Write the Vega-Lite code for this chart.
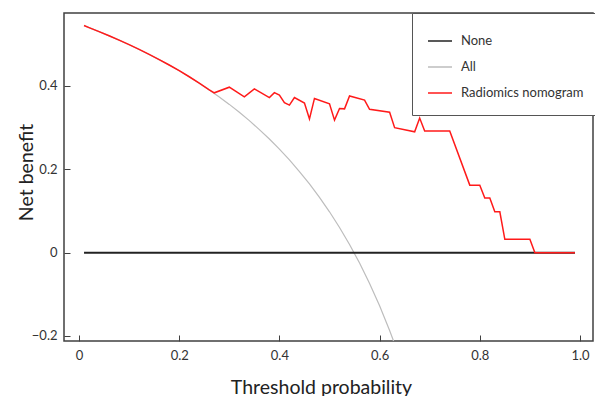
{
  "$schema": "https://vega.github.io/schema/vega-lite/v6.json",
  "width": 529,
  "height": 328,
  "autosize": {"type": "none"},
  "padding": {"left": 64, "top": 13, "right": 2, "bottom": 55},
  "background": "white",
  "config": {
    "view": {"stroke": "#404040", "strokeWidth": 1.5},
    "font": "Lato",
    "axis": {
      "domain": false,
      "grid": false,
      "tickSize": -6,
      "tickColor": "#404040",
      "tickWidth": 1,
      "labelFont": "Lato",
      "labelFontSize": 13,
      "labelColor": "#333333",
      "titleFont": "Lato",
      "titleFontSize": 19.5,
      "titleFontWeight": "normal",
      "titleColor": "#222222"
    },
    "legend": {
      "labelFont": "Lato",
      "labelFontSize": 13,
      "labelColor": "#333333"
    }
  },
  "data": {
    "values": [
      {"t": 0.01, "nb": 0, "s": "None"},
      {"t": 0.99, "nb": 0, "s": "None"},

      {"t": 0.01, "nb": 0.5444, "s": "All"},
      {"t": 0.02, "nb": 0.5398, "s": "All"},
      {"t": 0.03, "nb": 0.5351, "s": "All"},
      {"t": 0.04, "nb": 0.5302, "s": "All"},
      {"t": 0.06, "nb": 0.5202, "s": "All"},
      {"t": 0.08, "nb": 0.5098, "s": "All"},
      {"t": 0.10, "nb": 0.4989, "s": "All"},
      {"t": 0.12, "nb": 0.4875, "s": "All"},
      {"t": 0.14, "nb": 0.4756, "s": "All"},
      {"t": 0.16, "nb": 0.4631, "s": "All"},
      {"t": 0.18, "nb": 0.4500, "s": "All"},
      {"t": 0.20, "nb": 0.4363, "s": "All"},
      {"t": 0.22, "nb": 0.4218, "s": "All"},
      {"t": 0.24, "nb": 0.4066, "s": "All"},
      {"t": 0.26, "nb": 0.3905, "s": "All"},
      {"t": 0.28, "nb": 0.3736, "s": "All"},
      {"t": 0.30, "nb": 0.3557, "s": "All"},
      {"t": 0.32, "nb": 0.3368, "s": "All"},
      {"t": 0.34, "nb": 0.3167, "s": "All"},
      {"t": 0.36, "nb": 0.2953, "s": "All"},
      {"t": 0.38, "nb": 0.2726, "s": "All"},
      {"t": 0.40, "nb": 0.2483, "s": "All"},
      {"t": 0.42, "nb": 0.2224, "s": "All"},
      {"t": 0.44, "nb": 0.1946, "s": "All"},
      {"t": 0.46, "nb": 0.1648, "s": "All"},
      {"t": 0.48, "nb": 0.1327, "s": "All"},
      {"t": 0.50, "nb": 0.0980, "s": "All"},
      {"t": 0.52, "nb": 0.0604, "s": "All"},
      {"t": 0.54, "nb": 0.0196, "s": "All"},
      {"t": 0.56, "nb": -0.0250, "s": "All"},
      {"t": 0.58, "nb": -0.0738, "s": "All"},
      {"t": 0.60, "nb": -0.1275, "s": "All"},
      {"t": 0.62, "nb": -0.1868, "s": "All"},
      {"t": 0.63, "nb": -0.2189, "s": "All"},

      {"t": 0.01, "nb": 0.5450, "s": "Radiomics nomogram"},
      {"t": 0.02, "nb": 0.5400, "s": "Radiomics nomogram"},
      {"t": 0.04, "nb": 0.5304, "s": "Radiomics nomogram"},
      {"t": 0.06, "nb": 0.5204, "s": "Radiomics nomogram"},
      {"t": 0.08, "nb": 0.5100, "s": "Radiomics nomogram"},
      {"t": 0.10, "nb": 0.4991, "s": "Radiomics nomogram"},
      {"t": 0.12, "nb": 0.4877, "s": "Radiomics nomogram"},
      {"t": 0.14, "nb": 0.4758, "s": "Radiomics nomogram"},
      {"t": 0.16, "nb": 0.4633, "s": "Radiomics nomogram"},
      {"t": 0.18, "nb": 0.4502, "s": "Radiomics nomogram"},
      {"t": 0.20, "nb": 0.4365, "s": "Radiomics nomogram"},
      {"t": 0.22, "nb": 0.4220, "s": "Radiomics nomogram"},
      {"t": 0.24, "nb": 0.4068, "s": "Radiomics nomogram"},
      {"t": 0.26, "nb": 0.3907, "s": "Radiomics nomogram"},
      {"t": 0.27, "nb": 0.3835, "s": "Radiomics nomogram"},
      {"t": 0.30, "nb": 0.397, "s": "Radiomics nomogram"},
      {"t": 0.33, "nb": 0.374, "s": "Radiomics nomogram"},
      {"t": 0.35, "nb": 0.393, "s": "Radiomics nomogram"},
      {"t": 0.38, "nb": 0.372, "s": "Radiomics nomogram"},
      {"t": 0.39, "nb": 0.384, "s": "Radiomics nomogram"},
      {"t": 0.40, "nb": 0.378, "s": "Radiomics nomogram"},
      {"t": 0.41, "nb": 0.360, "s": "Radiomics nomogram"},
      {"t": 0.42, "nb": 0.354, "s": "Radiomics nomogram"},
      {"t": 0.43, "nb": 0.372, "s": "Radiomics nomogram"},
      {"t": 0.45, "nb": 0.359, "s": "Radiomics nomogram"},
      {"t": 0.46, "nb": 0.321, "s": "Radiomics nomogram"},
      {"t": 0.47, "nb": 0.370, "s": "Radiomics nomogram"},
      {"t": 0.50, "nb": 0.357, "s": "Radiomics nomogram"},
      {"t": 0.51, "nb": 0.318, "s": "Radiomics nomogram"},
      {"t": 0.52, "nb": 0.346, "s": "Radiomics nomogram"},
      {"t": 0.53, "nb": 0.345, "s": "Radiomics nomogram"},
      {"t": 0.54, "nb": 0.376, "s": "Radiomics nomogram"},
      {"t": 0.57, "nb": 0.366, "s": "Radiomics nomogram"},
      {"t": 0.58, "nb": 0.344, "s": "Radiomics nomogram"},
      {"t": 0.62, "nb": 0.337, "s": "Radiomics nomogram"},
      {"t": 0.63, "nb": 0.300, "s": "Radiomics nomogram"},
      {"t": 0.67, "nb": 0.290, "s": "Radiomics nomogram"},
      {"t": 0.68, "nb": 0.323, "s": "Radiomics nomogram"},
      {"t": 0.69, "nb": 0.292, "s": "Radiomics nomogram"},
      {"t": 0.74, "nb": 0.292, "s": "Radiomics nomogram"},
      {"t": 0.78, "nb": 0.162, "s": "Radiomics nomogram"},
      {"t": 0.80, "nb": 0.162, "s": "Radiomics nomogram"},
      {"t": 0.81, "nb": 0.131, "s": "Radiomics nomogram"},
      {"t": 0.82, "nb": 0.131, "s": "Radiomics nomogram"},
      {"t": 0.83, "nb": 0.098, "s": "Radiomics nomogram"},
      {"t": 0.84, "nb": 0.098, "s": "Radiomics nomogram"},
      {"t": 0.85, "nb": 0.032, "s": "Radiomics nomogram"},
      {"t": 0.90, "nb": 0.032, "s": "Radiomics nomogram"},
      {"t": 0.91, "nb": 0.0, "s": "Radiomics nomogram"},
      {"t": 0.99, "nb": 0.0, "s": "Radiomics nomogram"}
    ]
  },
  "encoding": {
    "x": {
      "field": "t",
      "type": "quantitative",
      "scale": {"domain": [-0.03, 1.026], "nice": false, "zero": false},
      "axis": {
        "title": "Threshold probability",
        "values": [0, 0.2, 0.4, 0.6, 0.8, 1.0],
        "labelExpr": "datum.value == 0 ? '0' : format(datum.value, '.1f')",
        "labelPadding": 14,
        "titleBaseline": "alphabetic",
        "titleX": 257,
        "titleY": 52
      }
    },
    "y": {
      "field": "nb",
      "type": "quantitative",
      "scale": {"domain": [-0.212, 0.575], "nice": false, "zero": false},
      "axis": {
        "title": "Net benefit",
        "values": [-0.2, 0, 0.2, 0.4],
        "labelExpr": "datum.value == 0 ? '0' : format(datum.value, '.1f')",
        "labelPadding": 13,
        "titleBaseline": "alphabetic",
        "titleAngle": -90,
        "titleX": -32,
        "titleY": 159
      }
    },
    "color": {
      "field": "s",
      "type": "nominal",
      "scale": {
        "domain": ["None", "All", "Radiomics nomogram"],
        "range": ["#222222", "#bdbdbd", "#ff1a1a"]
      },
      "legend": {
        "title": null,
        "orient": "none",
        "legendX": 348,
        "legendY": 0,
        "strokeColor": "#555555",
        "padding": 15,
        "symbolType": "stroke",
        "symbolSize": 576,
        "symbolStrokeWidth": 1.5,
        "labelOffset": 8,
        "rowPadding": 6,
        "fillColor": "white"
      }
    }
  },
  "layer": [
    {
      "transform": [{"filter": "datum.s == 'All'"}],
      "mark": {"type": "line", "strokeWidth": 1.2, "clip": true}
    },
    {
      "transform": [{"filter": "datum.s == 'None'"}],
      "mark": {"type": "line", "strokeWidth": 2}
    },
    {
      "transform": [{"filter": "datum.s == 'Radiomics nomogram'"}],
      "mark": {"type": "line", "strokeWidth": 1.5}
    }
  ]
}
